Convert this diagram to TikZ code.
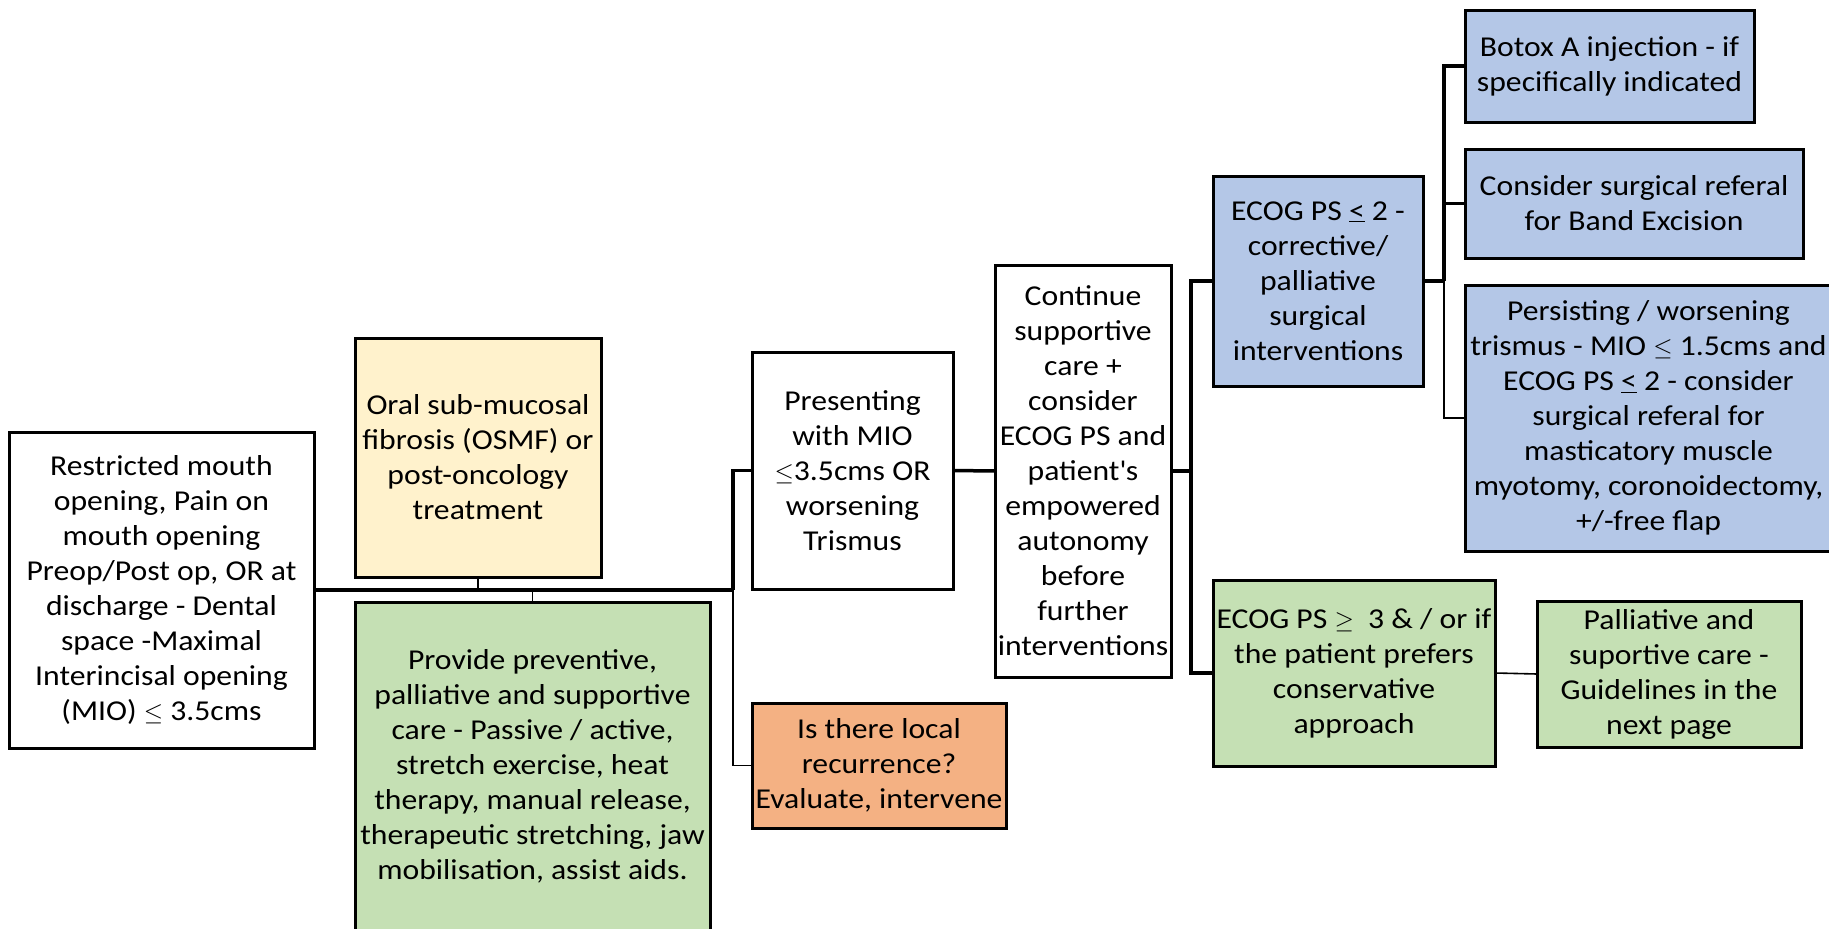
\documentclass[tikz,border=0pt]{standalone}
\usepackage{fontspec}
\setmainfont[FakeStretch=1.1]{Carlito}
\definecolor{cyellow}{HTML}{FFF2CC}
\definecolor{cgreen}{HTML}{C5E0B4}
\definecolor{cblue}{HTML}{B4C7E7}
\definecolor{corange}{HTML}{F4B183}
\begin{document}
\begin{tikzpicture}[x=1pt,y=-1pt,
  box/.style={draw=black, line width=3pt, inner sep=0pt, outer sep=0pt, align=center,
    font=\fontsize{28.8}{35}\selectfont},
  thickc/.style={draw=black, line width=3.5pt},
  thinc/.style={draw=black, line width=1.6pt}]
\fill[white] (0,0) rectangle (1829,929);
\useasboundingbox (0,0) rectangle (1829,929);

\node[box, fill=white, minimum width=305pt, minimum height=316pt] (restr) at (161.5,590)
  {Restricted mouth\\opening, Pain on\\mouth opening\\Preop/Post op, OR at\\discharge - Dental\\space -Maximal\\Interincisal opening\\(MIO) $\leq$ 3.5cms};
\node[box, fill=cyellow, minimum width=246pt, minimum height=239pt] (osmf) at (478,457.5)
  {Oral sub-mucosal\\fibrosis (OSMF) or\\post-oncology\\treatment};
\node[box, fill=cgreen, minimum width=355pt, minimum height=328pt] (prov) at (532.5,766)
  {Provide preventive,\\palliative and supportive\\care - Passive / active,\\stretch exercise, heat\\therapy, manual release,\\therapeutic stretching, jaw\\mobilisation, assist aids.};
\node[box, fill=white, minimum width=201pt, minimum height=237pt] (pres) at (852.5,470.5)
  {Presenting\\with MIO\\$\leq$3.5cms OR\\worsening\\Trismus};
\node[box, fill=corange, minimum width=254pt, minimum height=125pt] (recur) at (879,765.5)
  {Is there local\\recurrence?\\Evaluate, intervene};
\node[box, fill=white, minimum width=176pt, minimum height=412pt] (cont) at (1083,471)
  {Continue\\supportive\\care +\\consider\\ECOG PS and\\patient\textquotesingle s\\empowered\\autonomy\\before\\further\\interventions};
\node[box, fill=cblue, minimum width=210pt, minimum height=210pt] (ecogA) at (1318,281)
  {ECOG PS \underline{<} 2 -\\corrective/\\palliative\\surgical\\interventions};
\node[box, fill=cblue, minimum width=289pt, minimum height=112pt] (botox) at (1609.5,66)
  {Botox A injection - if\\specifically indicated};
\node[box, fill=cblue, minimum width=338pt, minimum height=109pt] (band) at (1634,203.5)
  {Consider surgical referal\\for Band Excision};
\node[box, fill=cblue, minimum width=367pt, minimum height=266pt] (persist) at (1648.5,418)
  {Persisting / worsening\\trismus - MIO $\leq$ 1.5cms and\\ECOG PS \underline{<} 2 - consider\\surgical referal for\\masticatory muscle\\myotomy, coronoidectomy,\\+/-free flap};
\node[box, fill=cgreen, minimum width=282pt, minimum height=186pt] (ecogB) at (1354,673)
  {ECOG PS $\geq$\ \ 3 \& / or if\\the patient prefers\\conservative\\approach};
\node[box, fill=cgreen, minimum width=264pt, minimum height=146pt] (pall) at (1669,674)
  {Palliative and\\suportive care -\\Guidelines in the\\next page};

\coordinate (j1) at (733,590);
\coordinate (j2) at (1191,471);
\coordinate (j3) at (1444,281);

\draw[thickc] (restr.east) -- (j1);
\draw[thinc] (osmf.south) -- (osmf.south |- j1);
\draw[thinc] (prov.north) -- (prov.north |- j1);
\draw[thickc] (j1) |- (pres.west);
\draw[thinc] (j1) |- (recur.west);
\draw[thickc] (pres.east) -- (cont.west);
\draw[thickc] (cont.east) -- (j2);
\draw[thickc] (j2) |- (ecogA.west);
\draw[thickc] (j2) |- (ecogB.west);
\draw[thickc] (ecogA.east) -- (j3);
\draw[thickc] (j3) |- (botox.west);
\draw[thickc] (j3) |- (band.west);
\draw[thinc] (j3) |- (persist.west);
\draw[thinc] (ecogB.east) -- (pall.west);
\end{tikzpicture}
\end{document}
